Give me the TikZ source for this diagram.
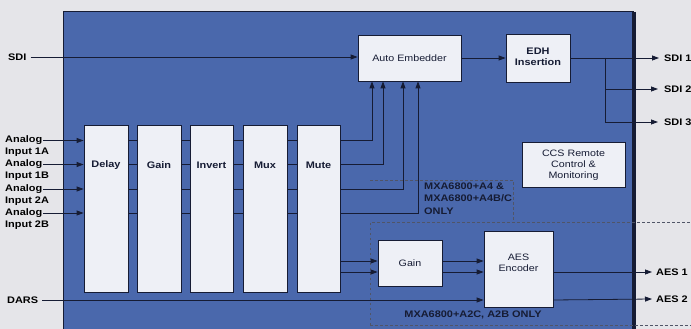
\documentclass[tikz,border=0pt]{standalone}
\usepackage{fontspec}
\setmainfont{Liberation Sans}[FakeStretch=1.15]
\usetikzlibrary{arrows.meta,shadows}
\definecolor{bg}{RGB}{229,229,233}
\definecolor{panel}{RGB}{74,104,172}
\definecolor{ink}{RGB}{22,28,52}
\definecolor{boxfill}{RGB}{238,240,246}
\begin{document}
\begin{tikzpicture}[x=1pt,y=-1pt,
  blk/.style={draw=ink, line width=0.8pt, fill=boxfill, inner sep=0pt,
    drop shadow={shadow xshift=1.2pt, shadow yshift=-1.2pt, fill=ink, opacity=1}},
  lbl/.style={font=\bfseries\fontsize{9.5}{11}\selectfont, text=black, inner sep=0pt},
  btxt/.style={font=\bfseries\fontsize{9.5}{10.5}\selectfont, text=ink, inner sep=0pt, align=center},
  rtxt/.style={font=\fontsize{9.3}{11}\selectfont, text=ink, inner sep=0pt, align=center},
  note/.style={font=\bfseries\fontsize{9.5}{12.5}\selectfont, text=ink, inner sep=0pt, align=left},
  wire/.style={draw=ink, line width=0.8pt},
  arr/.style={wire, -{Triangle[length=7pt,width=5pt]}},
  dsh/.style={draw=ink!75, line width=0.6pt, dash pattern=on 2.5pt off 2.5pt}]
\useasboundingbox (0,0) rectangle (691,329);
\fill[bg] (0,0) rectangle (691,329);
% panel
\fill[panel] (63,12) rectangle (634,329);
\draw[ink, line width=1pt] (63,329) -- (63,12) -- (634,12);
\draw[ink, line width=4pt] (634,12) -- (634,329);

% processing columns
\node[blk, minimum width=44pt, minimum height=167pt] (delay) at (106,208.5) {};
\node[blk, minimum width=44pt, minimum height=167pt] (gain) at (159,208.5) {};
\node[blk, minimum width=43pt, minimum height=167pt] (invert) at (211.5,208.5) {};
\node[blk, minimum width=44pt, minimum height=167pt] (mux) at (265,208.5) {};
\node[blk, minimum width=43pt, minimum height=167pt] (mute) at (318.5,208.5) {};
\node[btxt] (tdelay) at (106,165) {Delay};
\node[btxt] (tgain) at (159,165) {Gain};
\node[btxt] (tinvert) at (211.5,165) {Invert};
\node[btxt] (tmux) at (265,165) {Mux};
\node[btxt] (tmute) at (318.5,165) {Mute};

% top boxes
\node[blk, minimum width=103pt, minimum height=46pt] (ae) at (409.5,58) {};
\node[rtxt] (tae) at (409.5,58) {Auto Embedder};
\node[blk, minimum width=64pt, minimum height=48pt] (edh) at (538,58) {};
\node[btxt] (tedh) at (538,57) {EDH\\Insertion};
\node[blk, minimum width=103pt, minimum height=45pt] (ccs) at (573.5,164.5) {};
\node[rtxt] (tccs) at (573.5,165) {CCS Remote\\Control \&\\Monitoring};

% audio boxes
\node[blk, minimum width=64pt, minimum height=46pt] (g2) at (410,263) {};
\node[rtxt] (tg2) at (410,263) {Gain};
\node[blk, minimum width=69pt, minimum height=76pt] (aes) at (518.5,269) {};
\node[rtxt] (taes) at (518.5,263) {AES\\Encoder};

% left labels
\node[lbl, anchor=west] (sdi) at (8,57) {SDI};
\node[lbl, anchor=west] (an1) at (5,140.5) {Analog};
\node[lbl, anchor=west] (in1) at (5,152.5) {Input 1A};
\node[lbl, anchor=west] (an2) at (5,164.5) {Analog};
\node[lbl, anchor=west] (in2) at (5,176.5) {Input 1B};
\node[lbl, anchor=west] (an3) at (5,189) {Analog};
\node[lbl, anchor=west] (in3) at (5,201) {Input 2A};
\node[lbl, anchor=west] (an4) at (5,213) {Analog};
\node[lbl, anchor=west] (in4) at (5,225) {Input 2B};
\node[lbl, anchor=west] (dars) at (7,300) {DARS};

% right labels
\node[lbl, anchor=west] (s1) at (664,58) {SDI 1};
\node[lbl, anchor=west] (s2) at (664,89) {SDI 2};
\node[lbl, anchor=west] (s3) at (664,122) {SDI 3};
\node[lbl, anchor=west] (a1) at (656,272) {AES 1};
\node[lbl, anchor=west] (a2) at (656,299) {AES 2};

% notes
\node[note, anchor=west] (n1) at (424,198.5) {MXA6800+A4 \&\\MXA6800+A4B/C\\ONLY};
\node[note] (n2) at (473,315) {MXA6800+A2C, A2B ONLY};

% dashed option regions
\draw[dsh] (370,180) -- (513,180) -- (513,222);
\draw[dsh] (370,325) -- (370,222) -- (691,222);
\draw[dsh] (370,325) -- (691,325);

% SDI path
\draw[arr] ([xshift=4pt]sdi.east) -- (sdi.east -| ae.west);
\draw[arr] (ae.east) -- (edh.west);
\coordinate (br) at (605,58);
\draw[arr] (edh.east) -- ([xshift=-5pt]s1.west);
\draw[arr] (br) |- ([xshift=-6pt]s2.west);
\draw[arr] (br) |- ([xshift=-6pt]s3.west);

% analog inputs
\foreach \a in {an1,an2,an3,an4}{
  \draw[arr] ([xshift=1pt]\a.east) -- (\a.east -| delay.west);
  \draw[wire] (\a.east -| delay.east) -- (\a.east -| gain.west);
  \draw[wire] (\a.east -| gain.east) -- (\a.east -| invert.west);
  \draw[wire] (\a.east -| invert.east) -- (\a.east -| mux.west);
  \draw[wire] (\a.east -| mux.east) -- (\a.east -| mute.west);
}

% mute to auto embedder
\draw[arr] (an1.east -| mute.east) -| ([xshift=-37.5pt]ae.south);
\draw[arr] (an2.east -| mute.east) -| ([xshift=-26.5pt]ae.south);
\draw[arr] (an3.east -| mute.east) -| ([xshift=-6.5pt]ae.south);
\draw[arr] (an4.east -| mute.east) -| ([xshift=8.5pt]ae.south);

% audio path
\coordinate (gi1) at (342,261);
\coordinate (gi2) at (342,272);
\draw[arr] (gi1 -| mute.east) -- (gi1 -| g2.west);
\draw[arr] (gi2 -| mute.east) -- (gi2 -| g2.west);
\draw[arr] (gi1 -| g2.east) -- (gi1 -| aes.west);
\draw[arr] (gi2 -| g2.east) -- (gi2 -| aes.west);
\draw[arr] ([xshift=4pt]dars.east) -- (dars.east -| aes.west);
\draw[arr] (gi2 -| aes.east) -- ([xshift=-4pt]a1.west);
\draw[arr] (dars.east -| aes.east) -- ([xshift=-4pt]a2.west);
\end{tikzpicture}
\end{document}
